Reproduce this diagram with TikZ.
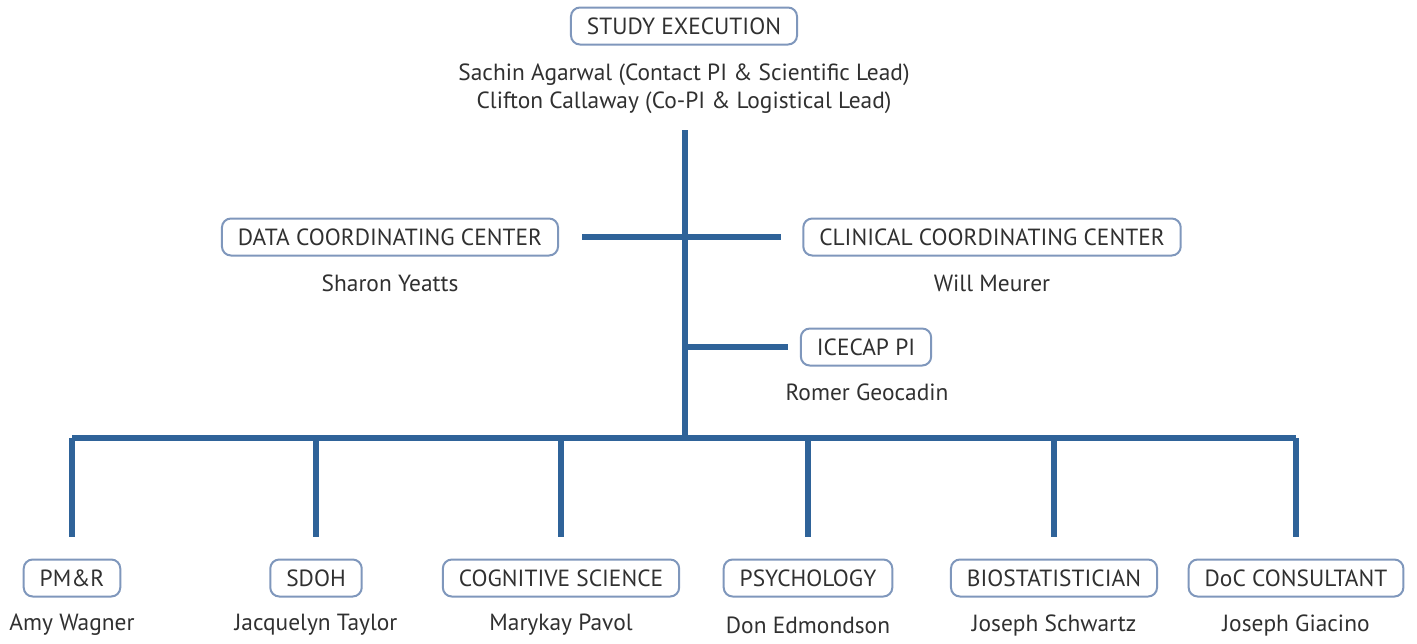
\documentclass[tikz,border=0pt]{standalone}
\usepackage{fontspec}
\setmainfont{PT Sans}
\definecolor{linkblue}{HTML}{2F6399}
\definecolor{boxedge}{HTML}{7F97BC}
\definecolor{ink}{HTML}{303030}
\begin{document}
\begin{tikzpicture}[x=0.5pt,y=-0.5pt,
  unit/.style={draw=boxedge,line width=1pt,rounded corners=4.5pt,
    minimum height=18.5pt,inner xsep=8pt,inner ysep=0pt,text=ink,
    font=\fontsize{11.7}{14}\selectfont},
  person/.style={text=ink,align=center,inner sep=0pt,
    font=\fontsize{11.7}{14}\selectfont},
  link/.style={draw=linkblue,line width=3pt}]
\useasboundingbox (0,0) rectangle (1417,643);
% top level
\node[unit] (exec) at (684,26) {STUDY EXECUTION};
\node[person] (execppl) at (684,89)
  {Sachin Agarwal (Contact PI \& Scientific Lead)\\Clifton Callaway (Co-PI \& Logistical Lead)};
% coordinating centers
\node[unit] (dcc) at (390,237) {DATA COORDINATING CENTER};
\node[person] (dccppl) at (390,283) {Sharon Yeatts};
\node[unit] (ccc) at (992,237) {CLINICAL COORDINATING CENTER};
\node[person] (cccppl) at (992,283) {Will Meurer};
\node[unit] (ice) at (866,347) {ICECAP PI};
\node[person] (iceppl) at (867,392) {Romer Geocadin};
% trunk
\coordinate (trunktop) at (685,130);
\coordinate (hub) at (685,438);
\draw[link] (trunktop) -- (hub);
\draw[link,shorten <=11.5pt,shorten >=10.5pt] (dcc.east) -- (ccc.west);
\draw[link,shorten >=6pt] (ice.west -| hub) -- (ice.west);
% bottom row
\foreach \nm/\x/\lbl/\who in {
  pmr/72/PM\&R/Amy Wagner,
  sdoh/316/SDOH/Jacquelyn Taylor,
  cog/561/COGNITIVE SCIENCE/Marykay Pavol,
  psy/808/PSYCHOLOGY/Don Edmondson,
  bio/1054/BIOSTATISTICIAN/Joseph Schwartz,
  doc/1296/DoC CONSULTANT/Joseph Giacino}{
  \node[unit] (\nm) at (\x,578) {\lbl};
  \node[person] (\nm ppl) at (\x,625) {\who};
}
\coordinate (barL) at (72,438);
\coordinate (barR) at (1296,438);
\draw[link] (pmr.north |- barL) -- (barR -| doc.north);
\foreach \nm in {pmr,sdoh,cog,psy,bio,doc}
  \draw[link,shorten >=11pt] (\nm.north |- hub) -- (\nm.north);
\end{tikzpicture}
\end{document}
